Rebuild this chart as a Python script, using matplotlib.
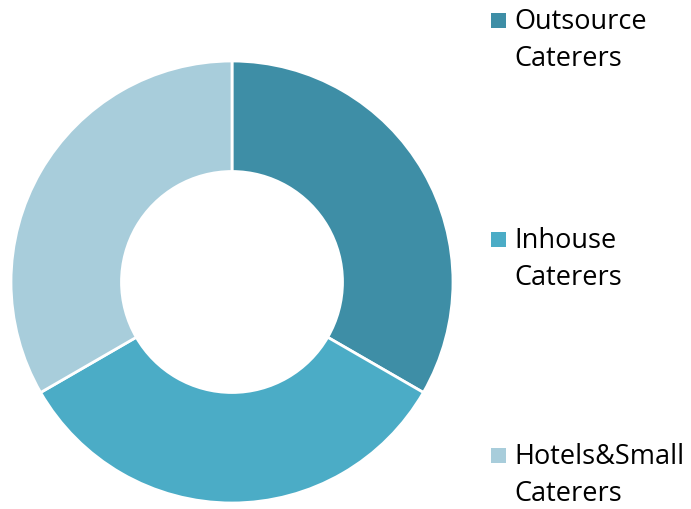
import matplotlib.pyplot as plt
from matplotlib.patches import Rectangle

# datos del gráfico
categorias = ['Outsource\nCaterers', 'Inhouse\nCaterers', 'Hotels&Small\nCaterers']
valores = [1, 1, 1]
colores = ['#3E8EA6', '#4BACC6', '#A8CDDB']

plt.rcParams['font.family'] = ['Open Sans', 'DejaVu Sans']

fig = plt.figure(figsize=(6.91, 5.09), dpi=100)
W, H = 691, 509

# anillo (centro ~ (232, 282) px, radio ~ 220 px)
cx, cy, r = 232, 282, 221
ax = fig.add_axes([(cx - r) / W, (H - cy - r) / H, 2 * r / W, 2 * r / H])
wedges, _ = ax.pie(valores, colors=colores, startangle=90, counterclock=False,
                   radius=1.0, wedgeprops=dict(width=0.5, edgecolor='white', linewidth=2))
ax.set_xlim(-1.0, 1.0)
ax.set_ylim(-1.0, 1.0)
ax.set_aspect('equal')
ax.axis('off')

# leyenda manual (cuadro alineado con la primera línea)
tops = [2, 221, 437]
for w, texto, top in zip(wedges, categorias, tops):
    fig.add_artist(Rectangle((491 / W, 1 - (top + 26) / H), 15 / W, 15 / H,
                             transform=fig.transFigure, facecolor=w.get_facecolor(),
                             edgecolor='none'))
    fig.text(514 / W, 1 - (top + 6) / H, texto, ha='left', va='top', fontsize=19.5,
             linespacing=1.45, color='black')

fig.savefig('out.png', dpi=100)
